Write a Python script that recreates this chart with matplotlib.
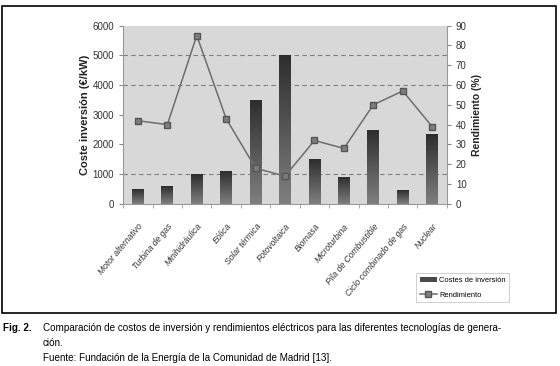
import numpy as np
import matplotlib
matplotlib.use("Agg")
import matplotlib.pyplot as plt
from matplotlib.patches import Rectangle, Patch

# datos
tecnologias = ["Motor alternativo", "Turbina de gas", "Minihidráulica", "Eólica",
               "Solar térmica", "Fotovoltaica", "Biomasa", "Microturbina",
               "Pila de Combustible", "Ciclo combinado de gas", "Nuclear"]
costes = [500, 600, 1000, 1100, 3500, 5000, 1500, 900, 2500, 450, 2350]
rendimiento = [42, 40, 85, 43, 18, 14, 32, 28, 50, 57, 39]
ticks_izq = [0, 1000, 2000, 3000, 4000, 5000, 6000]
ticks_der = [0, 10, 20, 30, 40, 50, 60, 70, 80, 90]
grid_y = [1000, 4000, 5000]

plt.rcParams['font.family'] = ['Liberation Sans', 'DejaVu Sans']

fig = plt.figure(figsize=(5.6, 3.66), dpi=100)
fig.patch.set_facecolor("white")

# marco exterior
fig.add_artist(Rectangle((0.004, 0.145), 0.988, 0.838, transform=fig.transFigure,
                         fill=False, edgecolor="black", linewidth=1.2))

ax = fig.add_axes([0.22, 0.443, 0.578, 0.487])
ax.set_facecolor("#d8d8d8")
x = np.arange(len(tecnologias))

for g in grid_y:
    ax.axhline(g, color="#808080", linestyle=(0, (4, 3)), linewidth=0.8, zorder=1)

# barras con degradado
grad = np.linspace(0, 1, 100).reshape(-1, 1)
cmap = matplotlib.colors.LinearSegmentedColormap.from_list("g", ["#7f7f7f", "#2e2e2e"])
bars = ax.bar(x, costes, width=0.4, color="none", zorder=2)
for b in bars:
    x0, y0 = b.get_x(), b.get_y()
    w, h = b.get_width(), b.get_height()
    im = ax.imshow(grad, extent=[x0, x0 + w, y0, y0 + h], origin="lower",
                   cmap=cmap, aspect="auto", zorder=2)
    im.set_clip_path(b)
ax.set_aspect("auto")
ax.set_xlim(-0.5, len(tecnologias) - 0.5)
ax.set_ylim(0, 6000)

ax.set_yticks(ticks_izq)
ax.tick_params(axis="y", labelsize=7, colors="#333333", length=3, color="#888888")
ax.set_xticks(x)
ax.set_xticklabels(tecnologias, rotation=50, ha="right", rotation_mode="anchor",
                   fontsize=6.2, style="italic", color="#333333")
ax.tick_params(axis="x", length=0, pad=13)
ax.set_xticks(np.arange(-0.5, len(tecnologias), 1), minor=True)
ax.tick_params(axis="x", which="minor", length=3, color="#999999")
for s in ["top", "right"]:
    ax.spines[s].set_visible(False)
ax.spines["left"].set_color("#999999")
ax.spines["bottom"].set_color("#999999")
ax.set_ylabel("Coste inversión (€/kW)", fontsize=8, fontweight="bold", color="#222222",
              labelpad=2)

ax2 = ax.twinx()
ax2.set_ylim(0, 90)
ax2.set_yticks(ticks_der)
line, = ax2.plot(x, rendimiento, color="#6e6e6e", linewidth=1.1, marker="s",
                 markersize=5, markerfacecolor="#7d7d7d", markeredgecolor="#555555",
                 zorder=3)
ax2.tick_params(axis="y", labelsize=7, colors="#333333", length=3, color="#888888")
for s in ["top", "left", "bottom"]:
    ax2.spines[s].set_visible(False)
ax2.spines["right"].set_color("#999999")
ax2.set_ylabel("Rendimiento (%)", fontsize=7.5, fontweight="bold", color="#222222",
               labelpad=4)

leg = fig.legend([Patch(facecolor="#4a4a4a"), line], ["Costes de inversión", "Rendimiento"],
                 loc="upper left", bbox_to_anchor=(0.737, 0.265), fontsize=5.4,
                 frameon=True, fancybox=False, edgecolor="#bbbbbb",
                 handlelength=2.2, handletextpad=0.3, borderpad=0.5, labelspacing=1.0)
leg.get_frame().set_linewidth(0.6)

# pie de figura
fig.text(0.006, 0.104, "Fig. 2.", fontsize=7.1, fontweight="bold", va="center")
fig.text(0.076, 0.104, "Comparación de costos de inversión y rendimientos eléctricos para las diferentes tecnologías de genera-",
         fontsize=7.1, va="center")
fig.text(0.076, 0.063, "ción.", fontsize=7.1, va="center")
fig.text(0.076, 0.022, "Fuente: Fundación de la Energía de la Comunidad de Madrid [13].", fontsize=7.1,
         va="center")

fig.savefig("out.png", dpi=100)
